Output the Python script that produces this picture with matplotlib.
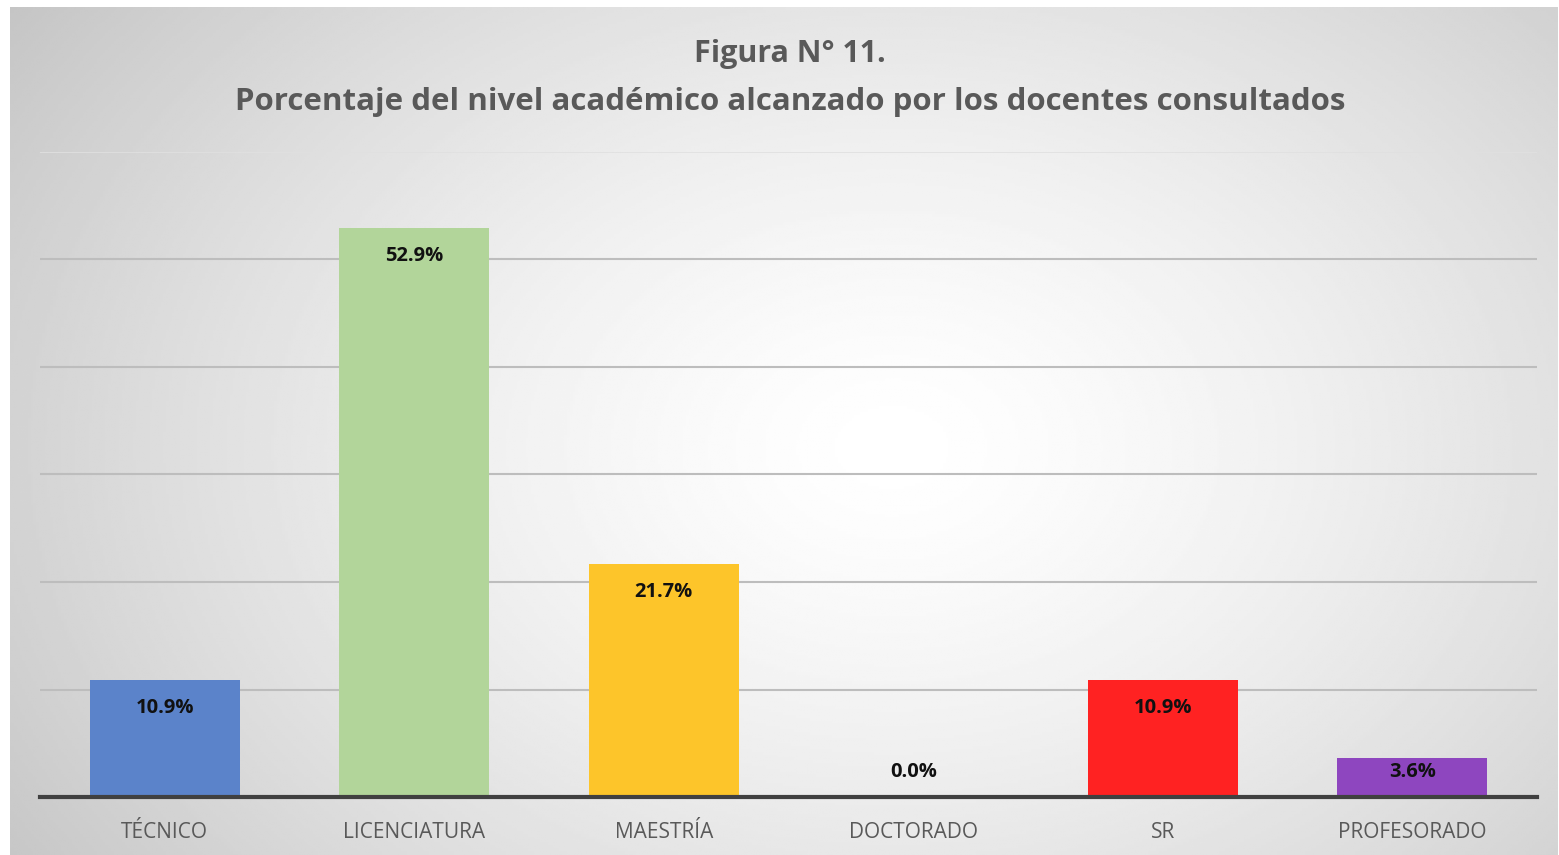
#!/usr/bin/env python3
"""Bar chart: porcentaje del nivel académico alcanzado por los docentes."""

import matplotlib

matplotlib.use("Agg")
import matplotlib.pyplot as plt
import numpy as np

categories = ["TÉCNICO", "LICENCIATURA", "MAESTRÍA", "DOCTORADO", "SR", "PROFESORADO"]
percentages = [10.9, 52.9, 21.7, 0.0, 10.9, 3.6]
bar_colors = ["#5B83CA", "#B2D59A", "#FDC52A", "#FFFFFF", "#FF2222", "#8E46BF"]
title_lines = ["Figura N° 11.", "Porcentaje del nivel académico alcanzado por los docentes consultados"]

W, H = 1559, 855
fig = plt.figure(figsize=(W / 100, H / 100), dpi=100)
fig.patch.set_facecolor("white")

# radial gradient panel behind the chart
bg = fig.add_axes([10 / W, 0, 1 - 12 / W, 1 - 7 / H])
yy, xx = np.mgrid[0:1:300j, 0:1:560j]
r = np.sqrt(((xx - 0.57) / 0.72) ** 2 + ((yy - 0.52) / 0.95) ** 2)
shade = 1.0 - 0.24 * np.clip(r, 0, 1) ** 1.4
bg.imshow(shade, cmap="gray", vmin=0, vmax=1, aspect="auto", extent=[0, 1, 0, 1])
bg.set_axis_off()

ax = fig.add_axes([40 / W, 58 / H, 1497 / W, 645 / H])
ax.set_facecolor("none")
x = np.arange(len(categories))
ax.bar(x, percentages, width=0.6, color=bar_colors, zorder=3)
ax.set_xlim(-0.5, len(categories) - 0.5)
ax.set_ylim(0, 60)
ax.set_yticks([10, 20, 30, 40, 50])
ax.yaxis.grid(True, color="#bdbdbd", linewidth=1.5, zorder=1)
ax.axhline(60, color="#e0e0e0", linewidth=1.2, zorder=1)
ax.tick_params(axis="y", left=False, labelleft=False)
ax.tick_params(axis="x", length=0, pad=18)
ax.set_xticks(x)
ax.set_xticklabels(categories, family="Open Sans", fontsize=15, color="#595959")
for side in ("top", "right", "left"):
    ax.spines[side].set_visible(False)
ax.spines["bottom"].set_color("#404040")
ax.spines["bottom"].set_linewidth(3)
ax.spines["bottom"].set_zorder(4)

for xi, val in zip(x, percentages):
    ax.text(xi, max(val - 2.6, 2.3), f"{val:.1f}%", ha="center", va="center", family="Open Sans",
            fontsize=14.5, fontweight="bold", color="#111111", zorder=5)

fig.text(790 / W, 1 - 54 / H, title_lines[0], ha="center", va="center", family="Open Sans",
         fontsize=22, fontweight="bold", color="#595959")
fig.text(790 / W, 1 - 102 / H, title_lines[1], ha="center", va="center", family="Open Sans",
         fontsize=22.5, fontweight="bold", color="#595959")

fig.savefig("out.png", dpi=100)
